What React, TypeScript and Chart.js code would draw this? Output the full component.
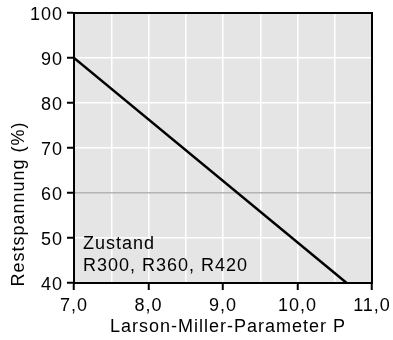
import React, { useEffect, useRef } from "react";
import { Chart, registerables } from "chart.js";

Chart.register(...registerables);

const lineX: number[] = [7.0, 10.66];
const lineY: number[] = [90, 40];
const xTicks: number[] = [7, 8, 9, 10, 11];
const yTicks: number[] = [40, 50, 60, 70, 80, 90, 100];
const xTitle = "Larson-Miller-Parameter P";
const yTitle = "Restspannung (%)";
const noteLines: string[] = ["Zustand", "R300, R360, R420"];

const FONT = "'Liberation Sans', Arial, Helvetica, sans-serif";
const FS = 18;
const LS = "1px";

export default function App() {
  const ref = useRef<HTMLCanvasElement | null>(null);
  useEffect(() => {
    if (!ref.current) return;
    const framePlugin = {
      id: "frame",
      beforeDraw(chart: any) {
        const { ctx, chartArea: a } = chart;
        ctx.letterSpacing = LS;
        ctx.save();
        ctx.fillStyle = "#e5e5e5";
        ctx.fillRect(a.left, a.top, a.right - a.left, a.bottom - a.top);
        ctx.restore();
      },
      afterDraw(chart: any) {
        const { ctx, chartArea: a, scales } = chart;
        ctx.save();
        ctx.strokeStyle = "#000";
        ctx.lineWidth = 2;
        ctx.strokeRect(a.left, a.top, a.right - a.left, a.bottom - a.top);
        ctx.fillStyle = "#000";
        ctx.font = `${FS}px ${FONT}`;
        ctx.letterSpacing = LS;
        ctx.textBaseline = "alphabetic";
        ctx.textAlign = "left";
        const x0 = scales.x.getPixelForValue(7.12);
        ctx.fillText(noteLines[0], x0, scales.y.getPixelForValue(47.56));
        ctx.fillText(noteLines[1], x0, scales.y.getPixelForValue(42.67));
        // axis titles
        ctx.textAlign = "center";
        ctx.fillText(xTitle, 228, 332);
        ctx.translate(24, 204);
        ctx.rotate(-Math.PI / 2);
        ctx.fillText(yTitle, 0, 0);
        ctx.restore();
      },
    };
    const chart = new Chart(ref.current, {
      type: "scatter",
      data: {
        datasets: [
          {
            data: lineX.map((x, i) => ({ x, y: lineY[i] })),
            showLine: true,
            borderColor: "#000",
            borderWidth: 2.5,
            pointRadius: 0,
            fill: false,
          },
        ],
      },
      options: {
        animation: false,
        responsive: true,
        maintainAspectRatio: false,
        layout: { padding: { top: 13, right: 21, left: 0, bottom: 0 } },
        plugins: { legend: { display: false }, tooltip: { enabled: false } },
        scales: {
          x: {
            type: "linear",
            min: 7,
            max: 11,
            afterFit: (s: any) => {
              s.height = 57;
              s.paddingLeft = 0;
              s.paddingRight = 0;
            },
            ticks: {
              stepSize: 0.5,
              autoSkip: false,
              maxRotation: 0,
              padding: 5,
              color: "#000",
              font: { family: FONT, size: FS },
              callback: (v: any) =>
                xTicks.includes(Number(v)) ? Number(v).toFixed(1).replace(".", ",") : "",
            },
            grid: {
              color: "#ffffff",
              lineWidth: 1.5,
              tickLength: 7,
              tickWidth: 2,
              tickColor: (c: any) =>
                c.tick && xTicks.includes(c.tick.value) ? "#000" : "rgba(0,0,0,0)",
            },
            border: { display: true, color: "#000", width: 2 },
            title: { display: false },
          },
          y: {
            type: "linear",
            min: 40,
            max: 100,
            afterFit: (s: any) => {
              s.width = 74;
              s.paddingTop = 0;
              s.paddingBottom = 0;
            },
            ticks: {
              stepSize: 10,
              padding: 4,
              labelOffset: 2,
              color: "#000",
              font: { family: FONT, size: FS },
              callback: (v: any) => (yTicks.includes(Number(v)) ? String(v) : ""),
            },
            grid: {
              color: (c: any) => (c.tick && c.tick.value === 60 ? "#b4b4b4" : "#ffffff"),
              lineWidth: 1.5,
              tickLength: 7,
              tickWidth: 2,
              tickColor: "#000",
            },
            border: { display: true, color: "#000", width: 2 },
            title: { display: false },
          },
        },
      },
      plugins: [framePlugin],
    });
    return () => chart.destroy();
  }, []);
  return (
    <div style={{ position: "absolute", left: 0, top: 0, width: 393, height: 340 }}>
      <canvas ref={ref} />
    </div>
  );
}
